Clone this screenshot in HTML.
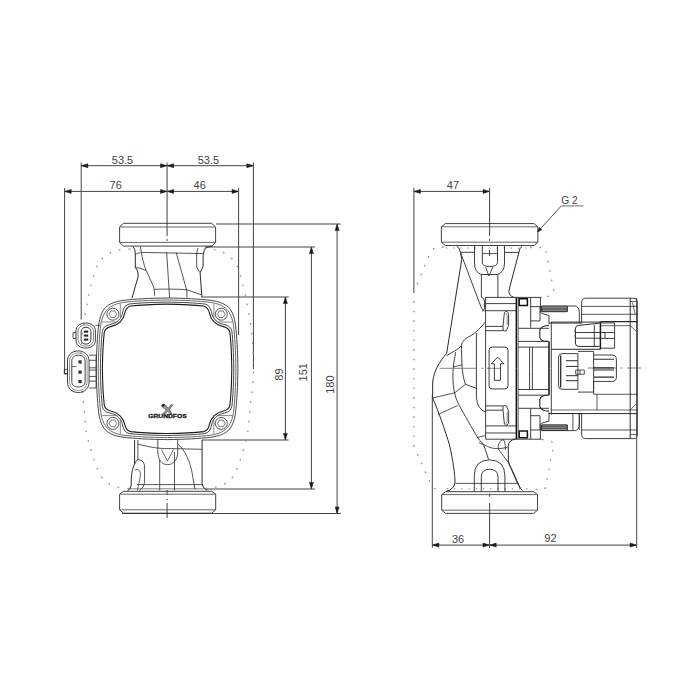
<!DOCTYPE html>
<html><head><meta charset="utf-8"><style>
html,body{margin:0;padding:0;background:#fff;}
svg{display:block;}
text{font-family:"Liberation Sans",sans-serif;}
</style></head><body>
<svg width="700" height="700" viewBox="0 0 700 700">
<rect width="700" height="700" fill="#fff"/>
<line x1="81.2" y1="165.7" x2="253.4" y2="165.7" stroke="#444" stroke-width="1" />
<polygon points="81.20,165.70 87.80,163.70 87.80,167.70" fill="#1a1a1a" stroke="#1a1a1a" stroke-width="0.5" stroke-linejoin="round"/>
<polygon points="167.10,165.70 160.50,163.70 160.50,167.70" fill="#1a1a1a" stroke="#1a1a1a" stroke-width="0.5" stroke-linejoin="round"/>
<polygon points="167.10,165.70 173.70,163.70 173.70,167.70" fill="#1a1a1a" stroke="#1a1a1a" stroke-width="0.5" stroke-linejoin="round"/>
<polygon points="253.40,165.70 246.80,163.70 246.80,167.70" fill="#1a1a1a" stroke="#1a1a1a" stroke-width="0.5" stroke-linejoin="round"/>
<line x1="64.6" y1="191.4" x2="238.6" y2="191.4" stroke="#444" stroke-width="1" />
<polygon points="64.60,191.40 71.20,189.40 71.20,193.40" fill="#1a1a1a" stroke="#1a1a1a" stroke-width="0.5" stroke-linejoin="round"/>
<polygon points="167.10,191.40 160.50,189.40 160.50,193.40" fill="#1a1a1a" stroke="#1a1a1a" stroke-width="0.5" stroke-linejoin="round"/>
<polygon points="167.10,191.40 173.70,189.40 173.70,193.40" fill="#1a1a1a" stroke="#1a1a1a" stroke-width="0.5" stroke-linejoin="round"/>
<polygon points="238.60,191.40 232.00,189.40 232.00,193.40" fill="#1a1a1a" stroke="#1a1a1a" stroke-width="0.5" stroke-linejoin="round"/>
<line x1="81.2" y1="162.5" x2="81.2" y2="319.6" stroke="#444" stroke-width="1" />
<line x1="64.6" y1="188" x2="64.6" y2="373.6" stroke="#444" stroke-width="1" />
<line x1="64.6" y1="373.6" x2="67.5" y2="373.6" stroke="#444" stroke-width="1" />
<line x1="253.4" y1="162.5" x2="253.4" y2="369" stroke="#444" stroke-width="1" />
<line x1="238.6" y1="188" x2="238.6" y2="335" stroke="#444" stroke-width="1" />
<line x1="167.1" y1="162.5" x2="167.1" y2="236" stroke="#444" stroke-width="1" />
<path d="M167.1 239 V241" fill="none" stroke="#444" stroke-width="1" />
<line x1="167.1" y1="490" x2="167.1" y2="495" stroke="#444" stroke-width="1" />
<line x1="167.1" y1="499" x2="167.1" y2="500" stroke="#444" stroke-width="1" />
<line x1="167.1" y1="503" x2="167.1" y2="518" stroke="#444" stroke-width="1" />
<text x="122.5" y="163.6" text-anchor="middle" font-size="11" fill="#444">53.5</text>
<text x="208.4" y="163.6" text-anchor="middle" font-size="11" fill="#444">53.5</text>
<text x="115.7" y="188.9" text-anchor="middle" font-size="11" fill="#444">76</text>
<text x="199.7" y="188.9" text-anchor="middle" font-size="11" fill="#444">46</text>
<line x1="285.4" y1="297" x2="285.4" y2="440" stroke="#444" stroke-width="1" />
<polygon points="285.40,297.00 283.40,303.60 287.40,303.60" fill="#1a1a1a" stroke="#1a1a1a" stroke-width="0.5" stroke-linejoin="round"/>
<polygon points="285.40,440.00 283.40,433.40 287.40,433.40" fill="#1a1a1a" stroke="#1a1a1a" stroke-width="0.5" stroke-linejoin="round"/>
<line x1="311.4" y1="247" x2="311.4" y2="489.0" stroke="#444" stroke-width="1" />
<polygon points="311.40,247.00 309.40,253.60 313.40,253.60" fill="#1a1a1a" stroke="#1a1a1a" stroke-width="0.5" stroke-linejoin="round"/>
<polygon points="311.40,489.00 309.40,482.40 313.40,482.40" fill="#1a1a1a" stroke="#1a1a1a" stroke-width="0.5" stroke-linejoin="round"/>
<line x1="337.1" y1="224" x2="337.1" y2="513.5" stroke="#444" stroke-width="1" />
<polygon points="337.10,224.00 335.10,230.60 339.10,230.60" fill="#1a1a1a" stroke="#1a1a1a" stroke-width="0.5" stroke-linejoin="round"/>
<polygon points="337.10,513.50 335.10,506.90 339.10,506.90" fill="#1a1a1a" stroke="#1a1a1a" stroke-width="0.5" stroke-linejoin="round"/>
<line x1="216" y1="224" x2="340.7" y2="224" stroke="#444" stroke-width="1" />
<line x1="205" y1="247" x2="315" y2="247" stroke="#444" stroke-width="1" />
<line x1="202" y1="297" x2="288.7" y2="297" stroke="#444" stroke-width="1" />
<line x1="202" y1="440" x2="288.7" y2="440" stroke="#444" stroke-width="1" />
<line x1="205" y1="489.0" x2="315" y2="489.0" stroke="#444" stroke-width="1" />
<line x1="122" y1="513.5" x2="340.7" y2="513.5" stroke="#444" stroke-width="1" />
<text x="282.7" y="374.5" text-anchor="middle" font-size="11" fill="#444" transform="rotate(-90 282.7 374.5)">89</text>
<text x="307.5" y="372.3" text-anchor="middle" font-size="11" fill="#444" transform="rotate(-90 307.5 372.3)">151</text>
<text x="334.1" y="384.6" text-anchor="middle" font-size="11" fill="#444" transform="rotate(-90 334.1 384.6)">180</text>
<line x1="413.9" y1="191.4" x2="489.6" y2="191.4" stroke="#444" stroke-width="1" />
<polygon points="413.90,191.40 420.50,189.40 420.50,193.40" fill="#1a1a1a" stroke="#1a1a1a" stroke-width="0.5" stroke-linejoin="round"/>
<polygon points="489.60,191.40 483.00,189.40 483.00,193.40" fill="#1a1a1a" stroke="#1a1a1a" stroke-width="0.5" stroke-linejoin="round"/>
<line x1="413.9" y1="188" x2="413.9" y2="292.6" stroke="#444" stroke-width="1" />
<line x1="489.6" y1="188" x2="489.6" y2="236" stroke="#444" stroke-width="1" />
<text x="452.9" y="188.6" text-anchor="middle" font-size="11" fill="#444">47</text>
<line x1="432.3" y1="545.1" x2="636.7" y2="545.1" stroke="#444" stroke-width="1" />
<polygon points="432.30,545.10 438.90,543.10 438.90,547.10" fill="#1a1a1a" stroke="#1a1a1a" stroke-width="0.5" stroke-linejoin="round"/>
<polygon points="489.60,545.10 483.00,543.10 483.00,547.10" fill="#1a1a1a" stroke="#1a1a1a" stroke-width="0.5" stroke-linejoin="round"/>
<polygon points="489.60,545.10 496.20,543.10 496.20,547.10" fill="#1a1a1a" stroke="#1a1a1a" stroke-width="0.5" stroke-linejoin="round"/>
<polygon points="636.70,545.10 630.10,543.10 630.10,547.10" fill="#1a1a1a" stroke="#1a1a1a" stroke-width="0.5" stroke-linejoin="round"/>
<line x1="432.3" y1="395" x2="432.3" y2="547.7" stroke="#444" stroke-width="1" />
<line x1="636.7" y1="298" x2="636.7" y2="548" stroke="#444" stroke-width="1" />
<line x1="489.6" y1="503" x2="489.6" y2="548" stroke="#444" stroke-width="1" />
<line x1="489.6" y1="493.5" x2="489.6" y2="496.5" stroke="#444" stroke-width="1" />
<line x1="489.6" y1="239" x2="489.6" y2="241" stroke="#444" stroke-width="1" />
<line x1="489.6" y1="250" x2="489.6" y2="256" stroke="#444" stroke-width="1" />
<text x="458" y="542.6" text-anchor="middle" font-size="11" fill="#444">36</text>
<text x="550.4" y="542.3" text-anchor="middle" font-size="11" fill="#444">92</text>
<line x1="537.5" y1="232" x2="561.3" y2="205.9" stroke="#444" stroke-width="0.9" />
<line x1="561.3" y1="205.9" x2="583.6" y2="205.9" stroke="#777" stroke-width="1.1" />
<polygon points="537.5,232 539.2,227.6 541.6,229.8" fill="#1a1a1a" stroke="#1a1a1a" stroke-width="0.6" stroke-linejoin="round"/>
<text x="561.2" y="203.7" text-anchor="start" font-size="10.2" fill="#444">G 2</text>
<path d="M123.5,223.3 H211.7 L215.6,227 V242.4 L211.7,246.1 H123.5 L119.6,242.4 V227 Z" fill="none" stroke="#2b2b2b" stroke-width="0.9" />
<line x1="119.6" y1="227" x2="215.6" y2="227" stroke="#555" stroke-width="0.9" />
<line x1="119.6" y1="242.4" x2="215.6" y2="242.4" stroke="#555" stroke-width="0.9" />
<path d="M123.5,491.3 H211.79999999999998 L215.7,494.2 V509.8 L211.79999999999998,513.2 H123.5 L119.6,509.8 V494.2 Z" fill="none" stroke="#2b2b2b" stroke-width="0.9" />
<line x1="119.6" y1="494.2" x2="215.7" y2="494.2" stroke="#555" stroke-width="0.9" />
<line x1="119.6" y1="509.8" x2="215.7" y2="509.8" stroke="#555" stroke-width="0.9" />
<g transform="translate(167.1 368.8)"><g><path d="M0,-70.8 C-18,-70.6 -32,-69.8 -44,-68.4 C-52,-67.3 -57.5,-65 -61.5,-61.5" fill="none" stroke="#333" stroke-width="0.9"/><path d="M0,-68.8 C-18,-68.6 -32,-67.8 -43.5,-66.4 C-51,-65.3 -56,-63 -59.5,-59.5" fill="none" stroke="#444" stroke-width="0.8"/><path d="M0,-66.7 C-15,-66.5 -29,-65.8 -37.5,-64.8 C-41.5,-64 -43.3,-61.5 -44.2,-57.5 C-45,-53 -46.5,-50.5 -48.5,-48.5" fill="none" stroke="#333" stroke-width="0.9"/><path d="M0,-64.7 C-15,-64.5 -28,-63.8 -36.5,-62.8 C-40,-62 -41.5,-59.5 -42.4,-55.5 C-43.2,-51 -45,-49 -47,-47" fill="none" stroke="#1a1a1a" stroke-width="1.1"/><g transform="matrix(0 1 1 0 0 0)"><path d="M0,-70.8 C-18,-70.6 -32,-69.8 -44,-68.4 C-52,-67.3 -57.5,-65 -61.5,-61.5" fill="none" stroke="#333" stroke-width="0.9"/><path d="M0,-68.8 C-18,-68.6 -32,-67.8 -43.5,-66.4 C-51,-65.3 -56,-63 -59.5,-59.5" fill="none" stroke="#444" stroke-width="0.8"/><path d="M0,-66.7 C-15,-66.5 -29,-65.8 -37.5,-64.8 C-41.5,-64 -43.3,-61.5 -44.2,-57.5 C-45,-53 -46.5,-50.5 -48.5,-48.5" fill="none" stroke="#333" stroke-width="0.9"/><path d="M0,-64.7 C-15,-64.5 -28,-63.8 -36.5,-62.8 C-40,-62 -41.5,-59.5 -42.4,-55.5 C-43.2,-51 -45,-49 -47,-47" fill="none" stroke="#1a1a1a" stroke-width="1.1"/></g><path d="M-65,-46.8 L-51,-46.8 M-46.8,-65 L-46.8,-51" fill="none" stroke="#555" stroke-width="0.7"/><circle cx="-54.2" cy="-54.6" r="6.0" fill="none" stroke="#444" stroke-width="0.9"/><polygon points="-50.40,-54.60 -52.30,-51.31 -56.10,-51.31 -58.00,-54.60 -56.10,-57.89 -52.30,-57.89" fill="none" stroke="#555" stroke-width="0.8"/></g><g transform="scale(-1 1)"><path d="M0,-70.8 C-18,-70.6 -32,-69.8 -44,-68.4 C-52,-67.3 -57.5,-65 -61.5,-61.5" fill="none" stroke="#333" stroke-width="0.9"/><path d="M0,-68.8 C-18,-68.6 -32,-67.8 -43.5,-66.4 C-51,-65.3 -56,-63 -59.5,-59.5" fill="none" stroke="#444" stroke-width="0.8"/><path d="M0,-66.7 C-15,-66.5 -29,-65.8 -37.5,-64.8 C-41.5,-64 -43.3,-61.5 -44.2,-57.5 C-45,-53 -46.5,-50.5 -48.5,-48.5" fill="none" stroke="#333" stroke-width="0.9"/><path d="M0,-64.7 C-15,-64.5 -28,-63.8 -36.5,-62.8 C-40,-62 -41.5,-59.5 -42.4,-55.5 C-43.2,-51 -45,-49 -47,-47" fill="none" stroke="#1a1a1a" stroke-width="1.1"/><g transform="matrix(0 1 1 0 0 0)"><path d="M0,-70.8 C-18,-70.6 -32,-69.8 -44,-68.4 C-52,-67.3 -57.5,-65 -61.5,-61.5" fill="none" stroke="#333" stroke-width="0.9"/><path d="M0,-68.8 C-18,-68.6 -32,-67.8 -43.5,-66.4 C-51,-65.3 -56,-63 -59.5,-59.5" fill="none" stroke="#444" stroke-width="0.8"/><path d="M0,-66.7 C-15,-66.5 -29,-65.8 -37.5,-64.8 C-41.5,-64 -43.3,-61.5 -44.2,-57.5 C-45,-53 -46.5,-50.5 -48.5,-48.5" fill="none" stroke="#333" stroke-width="0.9"/><path d="M0,-64.7 C-15,-64.5 -28,-63.8 -36.5,-62.8 C-40,-62 -41.5,-59.5 -42.4,-55.5 C-43.2,-51 -45,-49 -47,-47" fill="none" stroke="#1a1a1a" stroke-width="1.1"/></g><path d="M-65,-46.8 L-51,-46.8 M-46.8,-65 L-46.8,-51" fill="none" stroke="#555" stroke-width="0.7"/><circle cx="-54.2" cy="-54.6" r="6.0" fill="none" stroke="#444" stroke-width="0.9"/><polygon points="-50.40,-54.60 -52.30,-51.31 -56.10,-51.31 -58.00,-54.60 -56.10,-57.89 -52.30,-57.89" fill="none" stroke="#555" stroke-width="0.8"/></g><g transform="scale(1 -1)"><path d="M0,-70.8 C-18,-70.6 -32,-69.8 -44,-68.4 C-52,-67.3 -57.5,-65 -61.5,-61.5" fill="none" stroke="#333" stroke-width="0.9"/><path d="M0,-68.8 C-18,-68.6 -32,-67.8 -43.5,-66.4 C-51,-65.3 -56,-63 -59.5,-59.5" fill="none" stroke="#444" stroke-width="0.8"/><path d="M0,-66.7 C-15,-66.5 -29,-65.8 -37.5,-64.8 C-41.5,-64 -43.3,-61.5 -44.2,-57.5 C-45,-53 -46.5,-50.5 -48.5,-48.5" fill="none" stroke="#333" stroke-width="0.9"/><path d="M0,-64.7 C-15,-64.5 -28,-63.8 -36.5,-62.8 C-40,-62 -41.5,-59.5 -42.4,-55.5 C-43.2,-51 -45,-49 -47,-47" fill="none" stroke="#1a1a1a" stroke-width="1.1"/><g transform="matrix(0 1 1 0 0 0)"><path d="M0,-70.8 C-18,-70.6 -32,-69.8 -44,-68.4 C-52,-67.3 -57.5,-65 -61.5,-61.5" fill="none" stroke="#333" stroke-width="0.9"/><path d="M0,-68.8 C-18,-68.6 -32,-67.8 -43.5,-66.4 C-51,-65.3 -56,-63 -59.5,-59.5" fill="none" stroke="#444" stroke-width="0.8"/><path d="M0,-66.7 C-15,-66.5 -29,-65.8 -37.5,-64.8 C-41.5,-64 -43.3,-61.5 -44.2,-57.5 C-45,-53 -46.5,-50.5 -48.5,-48.5" fill="none" stroke="#333" stroke-width="0.9"/><path d="M0,-64.7 C-15,-64.5 -28,-63.8 -36.5,-62.8 C-40,-62 -41.5,-59.5 -42.4,-55.5 C-43.2,-51 -45,-49 -47,-47" fill="none" stroke="#1a1a1a" stroke-width="1.1"/></g><path d="M-65,-46.8 L-51,-46.8 M-46.8,-65 L-46.8,-51" fill="none" stroke="#555" stroke-width="0.7"/><circle cx="-54.2" cy="-54.6" r="6.0" fill="none" stroke="#444" stroke-width="0.9"/><polygon points="-50.40,-54.60 -52.30,-51.31 -56.10,-51.31 -58.00,-54.60 -56.10,-57.89 -52.30,-57.89" fill="none" stroke="#555" stroke-width="0.8"/></g><g transform="scale(-1 -1)"><path d="M0,-70.8 C-18,-70.6 -32,-69.8 -44,-68.4 C-52,-67.3 -57.5,-65 -61.5,-61.5" fill="none" stroke="#333" stroke-width="0.9"/><path d="M0,-68.8 C-18,-68.6 -32,-67.8 -43.5,-66.4 C-51,-65.3 -56,-63 -59.5,-59.5" fill="none" stroke="#444" stroke-width="0.8"/><path d="M0,-66.7 C-15,-66.5 -29,-65.8 -37.5,-64.8 C-41.5,-64 -43.3,-61.5 -44.2,-57.5 C-45,-53 -46.5,-50.5 -48.5,-48.5" fill="none" stroke="#333" stroke-width="0.9"/><path d="M0,-64.7 C-15,-64.5 -28,-63.8 -36.5,-62.8 C-40,-62 -41.5,-59.5 -42.4,-55.5 C-43.2,-51 -45,-49 -47,-47" fill="none" stroke="#1a1a1a" stroke-width="1.1"/><g transform="matrix(0 1 1 0 0 0)"><path d="M0,-70.8 C-18,-70.6 -32,-69.8 -44,-68.4 C-52,-67.3 -57.5,-65 -61.5,-61.5" fill="none" stroke="#333" stroke-width="0.9"/><path d="M0,-68.8 C-18,-68.6 -32,-67.8 -43.5,-66.4 C-51,-65.3 -56,-63 -59.5,-59.5" fill="none" stroke="#444" stroke-width="0.8"/><path d="M0,-66.7 C-15,-66.5 -29,-65.8 -37.5,-64.8 C-41.5,-64 -43.3,-61.5 -44.2,-57.5 C-45,-53 -46.5,-50.5 -48.5,-48.5" fill="none" stroke="#333" stroke-width="0.9"/><path d="M0,-64.7 C-15,-64.5 -28,-63.8 -36.5,-62.8 C-40,-62 -41.5,-59.5 -42.4,-55.5 C-43.2,-51 -45,-49 -47,-47" fill="none" stroke="#1a1a1a" stroke-width="1.1"/></g><path d="M-65,-46.8 L-51,-46.8 M-46.8,-65 L-46.8,-51" fill="none" stroke="#555" stroke-width="0.7"/><circle cx="-54.2" cy="-54.6" r="6.0" fill="none" stroke="#444" stroke-width="0.9"/><polygon points="-50.40,-54.60 -52.30,-51.31 -56.10,-51.31 -58.00,-54.60 -56.10,-57.89 -52.30,-57.89" fill="none" stroke="#555" stroke-width="0.8"/></g></g>
<path d="M133.1,246.3 Q135.3,249 135.3,253.7 V267.4 Q138.3,270 138.3,276 L131.9,298.3" fill="none" stroke="#2b2b2b" stroke-width="1" />
<path d="M140.4,246.5 L141.3,252.5 C142.5,258 143.5,264 146,270 L154.1,288 L154.6,295.7" fill="none" stroke="#2b2b2b" stroke-width="0.8" />
<path d="M135.3,267.4 Q141.3,268 146,270.5" fill="none" stroke="#2b2b2b" stroke-width="0.8" />
<path d="M135.3,253.9 L141.3,252.5" fill="none" stroke="#2b2b2b" stroke-width="0.7" />
<path d="M141.3,252.4 L203.1,253.6" fill="none" stroke="#2b2b2b" stroke-width="0.8" />
<path d="M166.6,252 L169.6,297.5" fill="none" stroke="#2b2b2b" stroke-width="0.8" />
<path d="M176.2,252.5 L186.9,291 V297.5" fill="none" stroke="#2b2b2b" stroke-width="0.8" />
<path d="M212.6,246.1 Q205.5,246.8 204.3,250 L203.1,255.4 V266.6 L200.1,272.6 L201.9,297.5" fill="none" stroke="#2b2b2b" stroke-width="1" />
<path d="M198,248 Q196.7,251 196.7,255 V266 Q197.3,270 200.1,272.6" fill="none" stroke="#2b2b2b" stroke-width="0.8" />
<path d="M154.6,289.3 C165,289 178,289 186.9,289.8 L201.4,294.8" fill="none" stroke="#2b2b2b" stroke-width="0.8" />
<path d="M134.6,440 V464 C132,469 131,477 131.2,485 Q131,489 127.6,490.8" fill="none" stroke="#2b2b2b" stroke-width="1" />
<path d="M137.9,440 V460.2" fill="none" stroke="#2b2b2b" stroke-width="0.8" />
<path d="M134.6,464 Q136,459.5 138.5,459.5 Q144.5,460.5 144.6,467 V481 Q144.5,487 139.5,490.6" fill="none" stroke="#2b2b2b" stroke-width="0.8" />
<path d="M134.6,470 Q140.5,468 140.5,475 L137.5,490.6" fill="none" stroke="#2b2b2b" stroke-width="0.7" />
<path d="M137.9,444 C150,447.5 160,448.6 167,448.6 C180,448.6 193,449.2 202.1,449.3" fill="none" stroke="#2b2b2b" stroke-width="0.8" />
<path d="M157.8,440 V452 C158,460 162,464.7 167.4,464.7 C173,464.7 177.7,460 177.7,452 V440" fill="none" stroke="#2b2b2b" stroke-width="0.8" />
<path d="M161.5,449.5 L167.4,461 L173.5,449.5" fill="none" stroke="#2b2b2b" stroke-width="0.7" />
<path d="M159.7,460 V490.5 M174.5,452 V490.5" fill="none" stroke="#2b2b2b" stroke-width="0.8" />
<path d="M177.7,444 C185,450 190.5,462 192.5,475 L195,489.5" fill="none" stroke="#2b2b2b" stroke-width="0.8" />
<path d="M202.1,440 V483.5 Q202.5,488 207.3,490.6" fill="none" stroke="#2b2b2b" stroke-width="1" />
<path d="M137,484.6 L202.1,484.6" fill="none" stroke="#2b2b2b" stroke-width="0.8" />
<path d="M128,488.8 L206,488.8" fill="none" stroke="#2b2b2b" stroke-width="0.6" />
<path d="M204.0,249.0 C205.4,249.1 209.7,249.1 212.5,249.5 C215.3,249.9 218.2,250.3 221.0,251.5 C223.8,252.7 227.0,254.4 229.5,256.5 C232.0,258.6 234.3,261.3 236.0,264.0 C237.7,266.7 238.5,269.5 239.5,272.5 C240.5,275.5 241.3,278.9 242.2,282.0 C243.1,285.1 244.0,288.2 244.7,291.3 C245.4,294.4 245.8,297.4 246.4,300.6 C247.0,303.8 247.7,307.3 248.3,310.6 C248.9,313.9 249.6,317.3 250.1,320.6 C250.6,323.9 250.9,327.4 251.3,330.6 C251.7,333.8 252.0,336.8 252.3,340.0 C252.6,343.2 252.8,346.7 253.0,350.0 C253.2,353.3 253.3,356.7 253.4,360.0 C253.5,363.3 253.4,366.8 253.4,370.0 C253.4,373.2 253.3,376.0 253.2,379.0 C253.0,382.0 252.8,384.7 252.5,388.0 C252.2,391.3 251.6,395.2 251.2,398.6 C250.8,402.0 250.5,405.3 250.2,408.6 C249.9,411.9 249.6,415.3 249.3,418.6 C249.0,421.9 248.7,425.5 248.3,428.6 C247.9,431.7 247.4,434.3 246.8,437.0 C246.2,439.7 245.5,442.6 244.8,445.0 C244.1,447.4 243.6,448.9 242.8,451.5 C242.0,454.1 240.9,458.0 240.0,460.6 C239.1,463.2 238.5,464.8 237.6,467.0 C236.7,469.2 235.9,471.7 234.5,474.0 C233.1,476.3 231.5,479.1 229.2,481.0 C226.9,482.9 223.3,484.6 220.5,485.7 C217.7,486.8 215.1,487.3 212.2,487.8 C209.3,488.3 204.5,488.5 203.0,488.6" fill="none" stroke="#8a8a8a" stroke-width="1.3" stroke-dasharray="1.6 8.2" stroke-linecap="butt"/>
<path d="M130.2,249.0 C128.8,249.1 124.5,249.1 121.7,249.5 C118.9,249.9 116.0,250.3 113.2,251.5 C110.4,252.7 107.2,254.4 104.7,256.5 C102.2,258.6 99.9,261.3 98.2,264.0 C96.5,266.7 95.7,269.5 94.7,272.5 C93.7,275.5 92.9,278.9 92.0,282.0 C91.1,285.1 90.2,288.2 89.5,291.3 C88.8,294.4 88.4,297.4 87.8,300.6 C87.2,303.8 86.5,307.3 85.9,310.6 C85.3,313.9 84.6,317.3 84.1,320.6 C83.6,323.9 83.3,327.4 82.9,330.6 C82.5,333.8 82.2,336.8 81.9,340.0 C81.6,343.2 81.4,346.7 81.2,350.0 C81.0,353.3 80.9,356.7 80.8,360.0 C80.7,363.3 80.8,366.8 80.8,370.0 C80.8,373.2 80.8,376.0 81.0,379.0 C81.2,382.0 81.4,384.7 81.7,388.0 C82.0,391.3 82.6,395.2 83.0,398.6 C83.4,402.0 83.7,405.3 84.0,408.6 C84.3,411.9 84.6,415.3 84.9,418.6 C85.2,421.9 85.5,425.5 85.9,428.6 C86.3,431.7 86.8,434.3 87.4,437.0 C88.0,439.7 88.7,442.6 89.4,445.0 C90.1,447.4 90.6,448.9 91.4,451.5 C92.2,454.1 93.3,458.0 94.2,460.6 C95.1,463.2 95.7,464.8 96.6,467.0 C97.5,469.2 98.3,471.7 99.7,474.0 C101.1,476.3 102.7,479.1 105.0,481.0 C107.3,482.9 110.9,484.6 113.7,485.7 C116.5,486.8 119.1,487.3 122.0,487.8 C124.9,488.3 129.7,488.5 131.2,488.6" fill="none" stroke="#8a8a8a" stroke-width="1.3" stroke-dasharray="1.6 8.2" stroke-linecap="butt"/>
<path d="M85.7,323 C91.5,323 95.4,326 95.4,331 V340 C95.4,345 91.5,348.1 85.7,348.1 C79.9,348.1 76,345 76,340 V331 C76,326 79.9,323 85.7,323 Z" fill="none" stroke="#2b2b2b" stroke-width="0.9" />
<path d="M85.7,325 C90.5,325 93.5,327.5 93.5,332 V339 C93.5,343.5 90.5,346.1 85.7,346.1 C80.9,346.1 78,343.5 78,339 V332 C78,327.5 80.9,325 85.7,325 Z" fill="none" stroke="#555" stroke-width="0.7" />
<path d="M86,327.3 C89,327.3 90.9,329 90.9,332 V339.5 C90.9,342.5 89,344.1 86,344.1 C83,344.1 81.1,342.5 81.1,339.5 V332 C81.1,329 83,327.3 86,327.3 Z" fill="none" stroke="#2b2b2b" stroke-width="0.9" />
<rect x="83.8" y="330.6" width="4.4" height="2" fill="#222"/>
<rect x="83.8" y="334.6" width="4.4" height="2" fill="#222"/>
<rect x="83.8" y="338.6" width="4.4" height="2" fill="#222"/>
<path d="M76,332.7 H73 V338.4 H76" fill="none" stroke="#2b2b2b" stroke-width="0.8" />
<line x1="95.4" y1="325.3" x2="100" y2="325.3" stroke="#2b2b2b" stroke-width="0.7" />
<path d="M78.3,350.9 C84.5,350.9 89.1,355 89.1,361 V382 C89.1,388.5 84.5,392.5 78.3,392.5 C72,392.5 67.5,388.5 67.5,382 V361 C67.5,355 72,350.9 78.3,350.9 Z" fill="none" stroke="#2b2b2b" stroke-width="0.9" />
<path d="M78.3,352.9 C83.3,352.9 87.1,356.5 87.1,361.5 V381.5 C87.1,387 83.3,390.5 78.3,390.5 C73.2,390.5 69.5,387 69.5,381.5 V361.5 C69.5,356.5 73.2,352.9 78.3,352.9 Z" fill="none" stroke="#666" stroke-width="0.7" />
<path d="M78.5,355.2 C82.5,355.2 85.1,357.5 85.1,361 V381.5 C85.1,385 82.5,387 78.5,387 C74.3,387 71.8,385 71.8,381.5 V361 C71.8,357.5 74.3,355.2 78.5,355.2 Z" fill="none" stroke="#2b2b2b" stroke-width="0.9" />
<rect x="78.4" y="360.29999999999995" width="3.2" height="3.2" fill="#333"/>
<rect x="78.4" y="370.5" width="3.2" height="3.2" fill="#333"/>
<rect x="78.4" y="379.9" width="3.2" height="3.2" fill="#333"/>
<line x1="71.8" y1="366.6" x2="76.5" y2="366.6" stroke="#2b2b2b" stroke-width="0.7" />
<path d="M67.5,369.4 H64.3 V374 H67.5" fill="none" stroke="#2b2b2b" stroke-width="0.8" />
<path d="M89.1,355.2 H96.1 V388 H89.1 M89.1,360.3 H96.1 M89.1,367.8 H96.1 M89.1,370.1 H96.1 M89.1,376.4 H96.1 M89.1,381.1 H96.1" fill="none" stroke="#2b2b2b" stroke-width="0.8" />
<path d="M161.3,405.8 Q162.5,403.4 165,404.6 L168.3,408.3 L171.3,404.2 L172.7,405 L169.4,409.8 L171.8,413.4 L170.3,413.9 L167.8,411 L164.8,413.9 L163.2,413.4 L166.4,409.9 Q163,408.5 161.3,405.8 Z" fill="#999" stroke="#333" stroke-width="0.6" stroke-linejoin="round"/>
<circle cx="163.2" cy="405.3" r="1.3" fill="#222"/>
<text x="148.2" y="418.2" font-size="5" font-weight="bold" fill="#222" stroke="#222" stroke-width="0.3" textLength="38.5" lengthAdjust="spacingAndGlyphs">GRUNDFOS</text>
<path d="M445.29999999999995,223.6 H534.0 L537.9,226.8 V242.2 L534.0,245.5 H445.29999999999995 L441.4,242.2 V226.8 Z" fill="none" stroke="#2b2b2b" stroke-width="0.9" />
<line x1="441.4" y1="226.8" x2="537.9" y2="226.8" stroke="#555" stroke-width="0.9" />
<line x1="441.4" y1="242.2" x2="537.9" y2="242.2" stroke="#555" stroke-width="0.9" />
<path d="M445.59999999999997,491.7 H533.6 L537.5,494.6 V510.2 L533.6,513.4 H445.59999999999997 L441.7,510.2 V494.6 Z" fill="none" stroke="#2b2b2b" stroke-width="0.9" />
<line x1="441.7" y1="494.6" x2="537.5" y2="494.6" stroke="#555" stroke-width="0.9" />
<line x1="441.7" y1="510.2" x2="537.5" y2="510.2" stroke="#555" stroke-width="0.9" />
<path d="M446,248 H528" fill="none" stroke="#777" stroke-width="1" stroke-dasharray="1.2 6"/>
<path d="M447,488.8 H530" fill="none" stroke="#777" stroke-width="1" stroke-dasharray="1.2 6"/>
<path d="M457,246.2 Q460,248.5 460.5,252.5 L461.8,259 L446.6,353.6" fill="none" stroke="#2b2b2b" stroke-width="1" />
<path d="M460.5,252.5 L481,307 Q482,310 484.5,311" fill="none" stroke="#2b2b2b" stroke-width="0.9" />
<line x1="461" y1="252.3" x2="474.5" y2="252.3" stroke="#2b2b2b" stroke-width="0.9" />
<path d="M474.5,246 V263 Q474.5,272 481,274.5 H497.5 Q504.5,272 504.5,263 V246" fill="none" stroke="#2b2b2b" stroke-width="0.9" />
<path d="M482.3,246 V262.5 Q482.3,266.5 489.5,266.5 Q497.5,266.5 497.5,262.5 V246" fill="none" stroke="#2b2b2b" stroke-width="0.9" />
<line x1="482.3" y1="253.6" x2="497.5" y2="253.6" stroke="#2b2b2b" stroke-width="0.8" />
<path d="M485.7,267 L488.8,276 L492.9,267" fill="none" stroke="#2b2b2b" stroke-width="0.8" />
<path d="M481.4,274.5 V297.4 M497.9,274.5 V297.4" fill="none" stroke="#2b2b2b" stroke-width="0.9" />
<path d="M481.4,297.4 Q484.5,297.5 484.5,301 V308.5 Q484.5,311 482,311" fill="none" stroke="#2b2b2b" stroke-width="0.9" />
<line x1="505" y1="252.4" x2="519" y2="252.4" stroke="#2b2b2b" stroke-width="0.9" />
<path d="M522,246.5 Q519.5,248 519.5,250 L508.9,290.6 Q508.5,295.8 514,297.4" fill="none" stroke="#2b2b2b" stroke-width="1" />
<path d="M446.6,353.6 C440,361 434,370 432.7,382 L432.6,398" fill="none" stroke="#2b2b2b" stroke-width="1" />
<path d="M485.4,322.1 C481,327 476,333 470.7,335.7 C465.5,338.5 462,341 461.4,345.7 C458,350 452,352 446.6,355.7" fill="none" stroke="#2b2b2b" stroke-width="0.9" />
<path d="M461.4,345.7 C461.8,355 461.8,368 462.6,372 C463.5,378 464.5,382 465.5,384.3 L476.4,388.3" fill="none" stroke="#2b2b2b" stroke-width="0.9" />
<path d="M455.7,352.2 C454,360 452.6,370 452.9,378 C453.2,388 454.5,396 458.6,404.3 C464,414 472,428 476.9,436.4 Q479.5,441 483.4,444 L488.6,459.5" fill="none" stroke="#2b2b2b" stroke-width="0.9" />
<line x1="452.9" y1="367.1" x2="462.2" y2="364.8" stroke="#2b2b2b" stroke-width="0.8" />
<path d="M432.9,397.9 L454.6,392.9 L465.5,384.3" fill="none" stroke="#2b2b2b" stroke-width="0.8" />
<path d="M476.4,333 V398 Q477.5,409 485.6,412.3" fill="none" stroke="#2b2b2b" stroke-width="0.9" />
<path d="M476.9,437.5 L485.6,435.5" fill="none" stroke="#2b2b2b" stroke-width="0.8" />
<path d="M432.6,398 C438,410 445,430 449.5,445 C453,460 455,475 455,482 Q454.8,489 446,491.5" fill="none" stroke="#2b2b2b" stroke-width="1" />
<line x1="438" y1="414.5" x2="457.6" y2="405.5" stroke="#2b2b2b" stroke-width="0.8" />
<path d="M474.3,491.6 V476 Q474.3,460 489.4,459.9 Q504.9,460 504.9,476 V491.6" fill="none" stroke="#2b2b2b" stroke-width="0.9" />
<path d="M481.3,491.6 V477 Q481.3,469.3 489.7,469.3 Q498,469.3 498,477 V491.6" fill="none" stroke="#2b2b2b" stroke-width="0.9" />
<path d="M515.6,439.2 Q508.3,440 508.3,446.1 V460.7 C509.5,466 512,469.5 512.6,471 L518.6,484.7 Q520,488.5 522.5,490.5" fill="none" stroke="#2b2b2b" stroke-width="1.0" />
<path d="M479,442.7 C485,445 490,448.7 497.1,448.7 C501,448.7 504,448 507.4,447.4" fill="none" stroke="#2b2b2b" stroke-width="0.8" />
<path d="M498,448.7 Q498.2,440.5 503,439.7 Q505.3,440 505.5,450" fill="none" stroke="#2b2b2b" stroke-width="0.8" />
<path d="M498,448.7 L508.3,462.4 L517.7,483.8 L520.3,488.1" fill="none" stroke="#2b2b2b" stroke-width="0.8" />
<line x1="455.5" y1="483.4" x2="518.6" y2="483.4" stroke="#2b2b2b" stroke-width="0.8" />
<path d="M439.5,368.3 H476.5 M481.5,368.3 H483.5 M487,368.3 H500" fill="none" stroke="#777" stroke-width="0.9" />
<path d="M588,368 H616 M620.5,368 H622.5 M627,368 H641.4" fill="none" stroke="#777" stroke-width="0.9" />
<g><path d="M485.6,368.3 V297.4 H541.6" fill="none" stroke="#2b2b2b" stroke-width="0.9"/><path d="M485.6,303.6 H516.4 M485.6,310.7 H516.4" fill="none" stroke="#2b2b2b" stroke-width="0.9"/><path d="M485.6,326.4 H503 M485.6,330.7 H503.5" fill="none" stroke="#2b2b2b" stroke-width="0.9"/><path d="M503,326.4 L504.4,312.5 Q505.5,311 507,311.5 Q508.6,312.5 508.6,314.5 V325.5 L506.4,330.7 Q504,331.5 503,330 Z" fill="none" stroke="#2b2b2b" stroke-width="0.9"/><path d="M505.5,313 L507.2,315 V325" fill="none" stroke="#555" stroke-width="0.7"/><path d="M516.4,297.4 V368.3" fill="none" stroke="#111" stroke-width="1.6"/><path d="M518.2,297.4 V368.3" fill="none" stroke="#444" stroke-width="0.8"/><path d="M519.2,298.8 H527.4 V305.6 H519.2 Z" fill="none" stroke="#111" stroke-width="1.5"/><path d="M530.7,297.4 V327.7 M530.7,306.6 H540 V320.9 H530.7" fill="none" stroke="#2b2b2b" stroke-width="0.9"/><path d="M540.4,297.4 V312 Q541,313.5 543,313.8 L549,315.5 V324.3" fill="none" stroke="#2b2b2b" stroke-width="0.9"/><path d="M541.6,306 H567.3 V311.7 H541.6 Z" fill="#999" stroke="#222" stroke-width="1.0"/><path d="M542,308.2 H567 M542,309.8 H567" fill="none" stroke="#222" stroke-width="0.6"/><path d="M567.3,306 H574.7 Q579.3,306 579.3,312.9 V323.1" fill="none" stroke="#2b2b2b" stroke-width="0.9"/><path d="M549,323.1 H582" fill="none" stroke="#2b2b2b" stroke-width="0.9"/><path d="M518.2,328.3 H549" fill="none" stroke="#2b2b2b" stroke-width="0.9"/><path d="M549,325.5 Q541.5,325.5 539.8,330 V337 Q540.5,341.4 547.5,341.4" fill="none" stroke="#222" stroke-width="1.1"/><path d="M518.2,341.4 H549 M518.2,347.1 H549" fill="none" stroke="#2b2b2b" stroke-width="0.9"/><path d="M549,341.4 V368.3" fill="none" stroke="#111" stroke-width="1.5"/><path d="M529.6,347.1 V368.3 M532.4,347.1 V368.3" fill="none" stroke="#2b2b2b" stroke-width="0.9"/><path d="M551.3,321.8 V368.3" fill="none" stroke="#2b2b2b" stroke-width="0.9"/></g><g transform="matrix(1 0 0 -1 0 736.6)"><path d="M485.6,368.3 V297.4 H541.6" fill="none" stroke="#2b2b2b" stroke-width="0.9"/><path d="M485.6,303.6 H516.4 M485.6,310.7 H516.4" fill="none" stroke="#2b2b2b" stroke-width="0.9"/><path d="M485.6,326.4 H503 M485.6,330.7 H503.5" fill="none" stroke="#2b2b2b" stroke-width="0.9"/><path d="M503,326.4 L504.4,312.5 Q505.5,311 507,311.5 Q508.6,312.5 508.6,314.5 V325.5 L506.4,330.7 Q504,331.5 503,330 Z" fill="none" stroke="#2b2b2b" stroke-width="0.9"/><path d="M505.5,313 L507.2,315 V325" fill="none" stroke="#555" stroke-width="0.7"/><path d="M516.4,297.4 V368.3" fill="none" stroke="#111" stroke-width="1.6"/><path d="M518.2,297.4 V368.3" fill="none" stroke="#444" stroke-width="0.8"/><path d="M519.2,298.8 H527.4 V305.6 H519.2 Z" fill="none" stroke="#111" stroke-width="1.5"/><path d="M530.7,297.4 V327.7 M530.7,306.6 H540 V320.9 H530.7" fill="none" stroke="#2b2b2b" stroke-width="0.9"/><path d="M540.4,297.4 V312 Q541,313.5 543,313.8 L549,315.5 V324.3" fill="none" stroke="#2b2b2b" stroke-width="0.9"/><path d="M541.6,306 H567.3 V311.7 H541.6 Z" fill="#999" stroke="#222" stroke-width="1.0"/><path d="M542,308.2 H567 M542,309.8 H567" fill="none" stroke="#222" stroke-width="0.6"/><path d="M567.3,306 H574.7 Q579.3,306 579.3,312.9 V323.1" fill="none" stroke="#2b2b2b" stroke-width="0.9"/><path d="M549,323.1 H582" fill="none" stroke="#2b2b2b" stroke-width="0.9"/><path d="M518.2,328.3 H549" fill="none" stroke="#2b2b2b" stroke-width="0.9"/><path d="M549,325.5 Q541.5,325.5 539.8,330 V337 Q540.5,341.4 547.5,341.4" fill="none" stroke="#222" stroke-width="1.1"/><path d="M518.2,341.4 H549 M518.2,347.1 H549" fill="none" stroke="#2b2b2b" stroke-width="0.9"/><path d="M549,341.4 V368.3" fill="none" stroke="#111" stroke-width="1.5"/><path d="M529.6,347.1 V368.3 M532.4,347.1 V368.3" fill="none" stroke="#2b2b2b" stroke-width="0.9"/><path d="M551.3,321.8 V368.3" fill="none" stroke="#2b2b2b" stroke-width="0.9"/></g>
<path d="M581.6,322.9 V302.5 Q581.6,298.2 585.8,298.2 H634 Q637.3,298.5 637.3,302 V434.5 Q637.3,438.6 634,438.6 H585.8 Q581.6,438.6 581.6,434.5 V413.6" fill="none" stroke="#2b2b2b" stroke-width="0.9" />
<path d="M630.2,298.2 V438.6" fill="none" stroke="#2b2b2b" stroke-width="1.0" />
<path d="M630.2,301.5 H637 M632.6,302.5 L635.2,314.3 M630.2,434.5 H637" fill="none" stroke="#2b2b2b" stroke-width="0.7" />
<path d="M581.4,306.4 H637.3 M581.4,314.3 H637.3" fill="none" stroke="#2b2b2b" stroke-width="0.8" />
<path d="M600.7,321.6 H637.3" fill="none" stroke="#2b2b2b" stroke-width="1.1" />
<path d="M600.7,325.7 H630.2 L636,331" fill="none" stroke="#2b2b2b" stroke-width="0.7" />
<path d="M593.6,394.3 H637.3 M597,394.3 V410" fill="none" stroke="#2b2b2b" stroke-width="0.8" />
<path d="M551.3,410 H637.3" fill="none" stroke="#2b2b2b" stroke-width="0.7" />
<path d="M551.3,413.6 H637.3" fill="none" stroke="#2b2b2b" stroke-width="1.0" />
<path d="M581.4,430 H637.3 M572.9,413.6 V430 M579.3,413.6 V430" fill="none" stroke="#2b2b2b" stroke-width="0.8" />
<path d="M630.2,410 L636,404" fill="none" stroke="#2b2b2b" stroke-width="0.6" />
<path d="M551.3,322.1 H600.4 M551.3,349.3 H600.4" fill="none" stroke="#2b2b2b" stroke-width="1.0" />
<path d="M600.4,321.5 V349.3" fill="none" stroke="#1a1a1a" stroke-width="1.5" />
<path d="M578.5,325.4 L599.6,323.2 M578.5,325.4 Q575.4,325.6 575.4,329 V343 Q575.4,346.4 578.5,346.4 H599.6" fill="none" stroke="#2b2b2b" stroke-width="1.0" />
<path d="M575.4,332.5 H600.4 M575.4,338.2 H600.4 M594.3,325 V346.4" fill="none" stroke="#2b2b2b" stroke-width="0.9" />
<path d="M574.2,331 H575.4 M574.2,336 H575.4" fill="none" stroke="#2b2b2b" stroke-width="0.8" />
<path d="M600.4,322.9 H614.6 V348.2 H600.4 M600.4,332.5 H614.6 M600.4,338.4 H614.6 M605,332.5 V338.4" fill="none" stroke="#2b2b2b" stroke-width="0.9" />
<path d="M562,353.6 H577.9 V389.3 H562 Q558.6,389.3 558.6,386 V357 Q558.6,353.6 562,353.6 Z" fill="none" stroke="#2b2b2b" stroke-width="0.9" />
<path d="M560.7,355.5 V387.5" fill="none" stroke="#2b2b2b" stroke-width="1.3" />
<path d="M577.9,351.4 H593.6 V392.1 H577.9" fill="none" stroke="#2b2b2b" stroke-width="0.9" />
<path d="M593.6,355 H612 Q616.4,355 616.4,359.5 V377 Q616.4,381.4 612,381.4 H593.6" fill="none" stroke="#2b2b2b" stroke-width="0.9" />
<path d="M566,360.7 H577.9 M566,366.4 H577.9 M566,375.7 H577.9 M566,380.7 H577.9" fill="none" stroke="#2b2b2b" stroke-width="1.0" />
<path d="M593.6,359.3 H614 M593.6,367.9 H614 M593.6,370 H614 M593.6,377.1 H614" fill="none" stroke="#2b2b2b" stroke-width="1.1" />
<path d="M575.7,370 H584.3 V374.3 H575.7 Z M580,370 V374.3" fill="none" stroke="#2b2b2b" stroke-width="0.8" />
<path d="M593.6,381.4 V394.3" fill="none" stroke="#2b2b2b" stroke-width="0.8" />
<path d="M492.1,347.1 H505 Q508,347.1 508,350.1 V385.9 Q508,388.9 505,388.9 H492.1 Q489.1,388.9 489.1,385.9 V350.1 Q489.1,347.1 492.1,347.1 Z" fill="none" stroke="#2b2b2b" stroke-width="0.9" />
<path d="M497.6,357.1 L504,363.8 H500.5 V380.3 H494.4 V363.8 H491.2 Z" fill="none" stroke="#2b2b2b" stroke-width="0.9" />
<path d="M443.5,247 H436.5 Q433.5,248.5 430.3,252.6 L413.9,292 V446 L431.5,486 Q434,489.7 441,489.7" fill="none" stroke="#8a8a8a" stroke-width="1.3" stroke-dasharray="1.6 8"/>
<path d="M530,247.5 H545.3 L553.9,291.4 Q552,297 541,297.3" fill="none" stroke="#8a8a8a" stroke-width="1.3" stroke-dasharray="1.6 8"/>
<path d="M541.8,439.6 Q553.6,439.5 553.7,445 L545,489.3 H530" fill="none" stroke="#8a8a8a" stroke-width="1.3" stroke-dasharray="1.6 8"/>
</svg></body></html>
